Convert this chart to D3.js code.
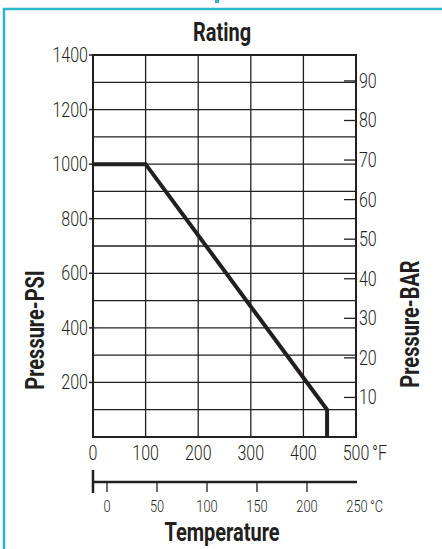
<!DOCTYPE html>
<html>
<head>
<meta charset="utf-8">
<script src="https://cdn.jsdelivr.net/npm/d3@7"></script>
<style>
  body { margin: 0; background: #fff; }
  text { font-family: Roboto, "Liberation Sans", sans-serif; fill: #231f20; }
</style>
</head>
<body>
<div id="chart"></div>
<script>
// rating curve, temperature in F, pressure in psi
var tempF    = [0, 100, 445, 445],
    pressPsi = [1000, 1000, 100, 0];

var psiTicks = [200, 400, 600, 800, 1000, 1200, 1400],
    psiGrid  = d3.range(100, 1400, 100),
    fTicks   = [0, 100, 200, 300, 400, 500],
    barTicks = [10, 20, 30, 40, 50, 60, 70, 80, 90],
    cTicks   = [0, 50, 100, 150, 200, 250];

var W = 442, H = 549;
var pL = 93, pR = 356, pT = 55, pB = 437;
var SX = 0.8; // squeeze to look like a condensed face

var svg = d3.select('#chart').append('svg')
  .attr('width', W)
  .attr('height', H);

function label(g, px, py, txt, size, anchor, bold, rot) {
  return g.append('text')
    .attr('transform', 'translate(' + px + ',' + py + ')' + (rot ? ' rotate(' + rot + ')' : '') + ' scale(' + SX + ',1)')
    .style('text-anchor', anchor || 'start')
    .style('font-size', size + 'px')
    .style('font-weight', bold ? 'bold' : 300)
    .text(txt);
}

// frame (top + left edge of the card)
svg.append('path')
  .attr('d', 'M4,' + H + 'V9H' + W)
  .style('fill', 'none')
  .style('stroke', '#2cb5c4')
  .style('stroke-width', 2.5);
svg.append('rect')
  .attr('x', 215).attr('y', 0).attr('width', 4).attr('height', 3)
  .style('fill', '#2cb5c4');

var x = d3.scaleLinear().domain([0, 500]).range([pL, pR]),
    y = d3.scaleLinear().domain([0, 1400]).range([pB, pT]),
    yBar = d3.scaleLinear().domain([0, 1400 / 14.5]).range([pB, pT]),
    xC = d3.scaleLinear().domain([-14, 250]).range([pL, pR + 1]);

// grid
var grid = svg.append('g').style('stroke', '#231f20').style('stroke-width', 1.3);
grid.selectAll('.h').data(psiGrid).enter().append('line')
  .attr('x1', pL).attr('x2', pR)
  .attr('y1', function(d){ return y(d); })
  .attr('y2', function(d){ return y(d); });
grid.selectAll('.v').data([100, 200, 300, 400]).enter().append('line')
  .attr('y1', pT).attr('y2', pB)
  .attr('x1', function(d){ return x(d); })
  .attr('x2', function(d){ return x(d); });

// plot frame
svg.append('rect')
  .attr('x', pL).attr('y', pT)
  .attr('width', pR - pL).attr('height', pB - pT)
  .style('fill', 'none')
  .style('stroke', '#231f20')
  .style('stroke-width', 2);

// left psi axis
svg.append('g').selectAll('line').data(psiTicks).enter().append('line')
  .attr('x1', pL).attr('x2', pL - 4)
  .attr('y1', function(d){ return y(d); })
  .attr('y2', function(d){ return y(d); })
  .style('stroke', '#231f20').style('stroke-width', 1.5);
var gl = svg.append('g');
psiTicks.forEach(function(d){ label(gl, pL - 5, y(d) + 7, d, 20, 'end'); });

// right bar axis
svg.append('g').selectAll('line').data(barTicks).enter().append('line')
  .attr('x1', pR).attr('x2', pR - 12)
  .attr('y1', function(d){ return yBar(d); })
  .attr('y2', function(d){ return yBar(d); })
  .style('stroke', '#231f20').style('stroke-width', 1.3);
var gr = svg.append('g');
barTicks.forEach(function(d){ label(gr, pR + 3, yBar(d) + 7, d, 20); });

// bottom F axis labels
var gb = svg.append('g');
fTicks.forEach(function(d){ label(gb, x(d), pB + 23, d, 20, 'middle'); });
label(gb, x(500) + 16, pB + 23, '°F', 20);

// celsius axis
var cy = 482;
svg.append('line')
  .attr('x1', xC(-14)).attr('x2', xC(250))
  .attr('y1', cy).attr('y2', cy)
  .style('stroke', '#231f20').style('stroke-width', 2.5);
svg.append('line')
  .attr('x1', xC(-14)).attr('x2', xC(-14))
  .attr('y1', cy - 12).attr('y2', cy + 11)
  .style('stroke', '#231f20').style('stroke-width', 2.5);
svg.append('g').selectAll('line').data(cTicks.slice(0, -1)).enter().append('line')
  .attr('x1', function(d){ return xC(d); })
  .attr('x2', function(d){ return xC(d); })
  .attr('y1', cy).attr('y2', cy + 10)
  .style('stroke', '#231f20').style('stroke-width', 1.3);
var gc = svg.append('g');
cTicks.forEach(function(d){ label(gc, xC(d), cy + 30, d, 16, 'middle'); });
label(gc, xC(250) + 13, cy + 30, '°C', 16);

// rating curve
var line = d3.line()
  .x(function(d){ return x(d[0]); })
  .y(function(d){ return y(d[1]); });
svg.append('path')
  .datum(d3.zip(tempF, pressPsi))
  .attr('d', line)
  .style('fill', 'none')
  .style('stroke', '#231f20')
  .style('stroke-width', 4);

// titles
var gt = svg.append('g');
label(gt, 222, 41, 'Rating', 25, 'middle', true);
label(gt, 222, 541, 'Temperature', 25, 'middle', true);
label(gt, 44, 330, 'Pressure-PSI', 25, 'middle', true, -90);
label(gt, 419, 324, 'Pressure-BAR', 25, 'middle', true, -90);
</script>
</body>
</html>
